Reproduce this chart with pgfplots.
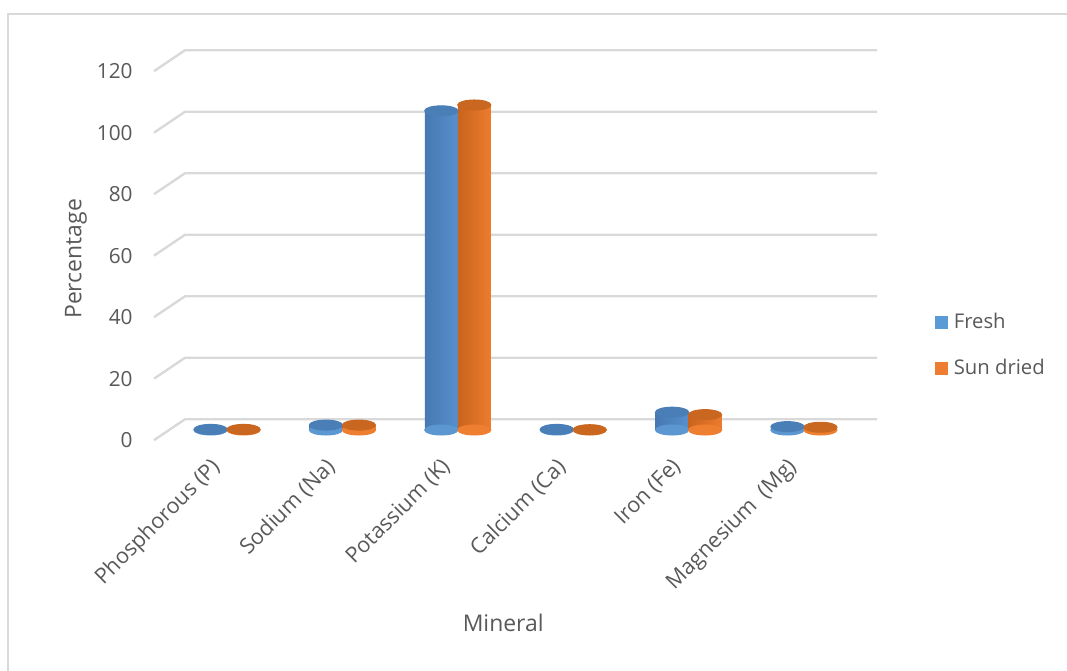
\documentclass[border=0pt]{standalone}
\usepackage{fontspec}
\setmainfont{Open Sans}
\usepackage{pgfplots}
\pgfplotsset{compat=1.18}
\definecolor{txt}{HTML}{595959}
\definecolor{gridc}{HTML}{D9D9D9}
\definecolor{bL}{HTML}{4679B2}
\definecolor{bM}{HTML}{72B1EC}
\definecolor{bR}{HTML}{5690CC}
\definecolor{bB}{HTML}{5C97D2}
\definecolor{bC}{HTML}{4A7EB7}
\definecolor{oL}{HTML}{C9631D}
\definecolor{oM}{HTML}{FF9442}
\definecolor{oR}{HTML}{EC7C2E}
\definecolor{oB}{HTML}{EE7F30}
\definecolor{oC}{HTML}{C9661F}
\definecolor{bLeg}{HTML}{5B9BD5}
\definecolor{oLeg}{HTML}{ED7D31}
\pgfplotsset{
  cylB/.style={draw=none, left color=bL, middle color=bM, right color=bR, forget plot},
  cylO/.style={draw=none, left color=oL, middle color=oM, right color=oR, forget plot},
  capB/.style={only marks, mark=*, mark size=6.2pt, mark options={yscale=0.3, draw=#1, fill=#1}, forget plot},
}
\begin{document}
\begin{tikzpicture}[x=1pt,y=1pt]
\path[use as bounding box] (-57.75,-84.6) rectangle (342.375,167.025);
\draw[gridc, line width=0.8pt] (-54.75,-84.6) -- (-54.75,161.775) -- (342.375,161.775);
\begin{axis}[
  at={(0,0)}, anchor=south west, scale only axis,
  width=271.125pt, height=148.76pt,
  xmin=-0.633, xmax=5.633, ymin=-5, ymax=124,
  clip=false,
  axis line style={draw=none}, tick style={draw=none},
  ytick={-3.3,16.7,36.7,56.7,76.7,96.7,116.7},
  yticklabels={0,20,40,60,80,100,120},
  yticklabel style={font=\fontsize{7.8}{9}\selectfont, text=txt, xshift=-4.5pt},
  xtick={-0.14,0.86,1.86,2.86,3.86,4.86},
  xticklabels={Phosphorous (P),Sodium (Na),Potassium (K),Calcium (Ca),Iron (Fe),Magnesium\ \ (Mg)},
  xticklabel style={rotate=45, anchor=north east, font=\fontsize{8.1}{10}\selectfont, text=txt, yshift=1pt},
  ylabel={Percentage},
  ylabel style={at={(axis description cs:-0.108,0.47)}, anchor=center, font=\fontsize{8.6}{10}\selectfont, text=txt},
  xlabel={Mineral},
  xlabel style={at={(axis description cs:0.483,-0.448)}, anchor=center, font=\fontsize{8.6}{10}\selectfont, text=txt},
  legend style={at={(axis description cs:1.069,0.252)}, anchor=west, draw=none, fill=none,
    font=\fontsize{7.6}{9}\selectfont, text=txt, row sep=6pt},
  legend cell align=left,
]
% back wall gridlines
\addplot[gridc, line width=0.9pt, forget plot] coordinates {(-0.633,-3.3) (-0.364,3.5) (5.633,3.5)};
\addplot[gridc, line width=0.9pt, forget plot] coordinates {(-0.633,16.7) (-0.364,23.5) (5.633,23.5)};
\addplot[gridc, line width=0.9pt, forget plot] coordinates {(-0.633,36.7) (-0.364,43.5) (5.633,43.5)};
\addplot[gridc, line width=0.9pt, forget plot] coordinates {(-0.633,56.7) (-0.364,63.5) (5.633,63.5)};
\addplot[gridc, line width=0.9pt, forget plot] coordinates {(-0.633,76.7) (-0.364,83.5) (5.633,83.5)};
\addplot[gridc, line width=0.9pt, forget plot] coordinates {(-0.633,96.7) (-0.364,103.5) (5.633,103.5)};
\addplot[gridc, line width=0.9pt, forget plot] coordinates {(-0.633,116.7) (-0.364,123.5) (5.633,123.5)};
% bottom ellipses
\addplot[capB=bB] coordinates {(-0.143,0) (0.857,0) (1.857,0) (2.857,0) (3.857,0) (4.857,0)};
\addplot[capB=oB] coordinates {(0.143,0) (1.143,0) (2.143,0) (3.143,0) (4.143,0) (5.143,0)};
% cylinders: Fresh (x from i-0.286 to i), Sun dried (x from i to i+0.286)
\addplot[cylB] coordinates {(-0.286,0) (-0.286,0.2) (0,0.2) (0,0)} -- cycle;
\addplot[cylB] coordinates {(0.714,0) (0.714,1.6) (1,1.6) (1,0)} -- cycle;
\addplot[cylB] coordinates {(1.714,0) (1.714,103.8) (2,103.8) (2,0)} -- cycle;
\addplot[cylB] coordinates {(2.714,0) (2.714,0.2) (3,0.2) (3,0)} -- cycle;
\addplot[cylB] coordinates {(3.714,0) (3.714,5.8) (4,5.8) (4,0)} -- cycle;
\addplot[cylB] coordinates {(4.714,0) (4.714,1.1) (5,1.1) (5,0)} -- cycle;
\addplot[cylO] coordinates {(0,0) (0,0.2) (0.286,0.2) (0.286,0)} -- cycle;
\addplot[cylO] coordinates {(1,0) (1,1.6) (1.286,1.6) (1.286,0)} -- cycle;
\addplot[cylO] coordinates {(2,0) (2,105.7) (2.286,105.7) (2.286,0)} -- cycle;
\addplot[cylO] coordinates {(3,0) (3,0.1) (3.286,0.1) (3.286,0)} -- cycle;
\addplot[cylO] coordinates {(4,0) (4,5.0) (4.286,5.0) (4.286,0)} -- cycle;
\addplot[cylO] coordinates {(5,0) (5,0.9) (5.286,0.9) (5.286,0)} -- cycle;
% top caps
\addplot[capB=bC] coordinates {(-0.143,0.2) (0.857,1.6) (1.857,103.8) (2.857,0.2) (3.857,5.8) (4.857,1.1)};
\addplot[capB=oC] coordinates {(0.143,0.2) (1.143,1.6) (2.143,105.7) (3.143,0.1) (4.143,5.0) (5.143,0.9)};
% legend
\addlegendimage{legend image code/.code={\fill[bLeg] (0pt,-2.25pt) rectangle (4.5pt,2.25pt);}}
\addlegendentry{Fresh}
\addlegendimage{legend image code/.code={\fill[oLeg] (0pt,-2.25pt) rectangle (4.5pt,2.25pt);}}
\addlegendentry{Sun dried}
\end{axis}
\end{tikzpicture}
\end{document}
